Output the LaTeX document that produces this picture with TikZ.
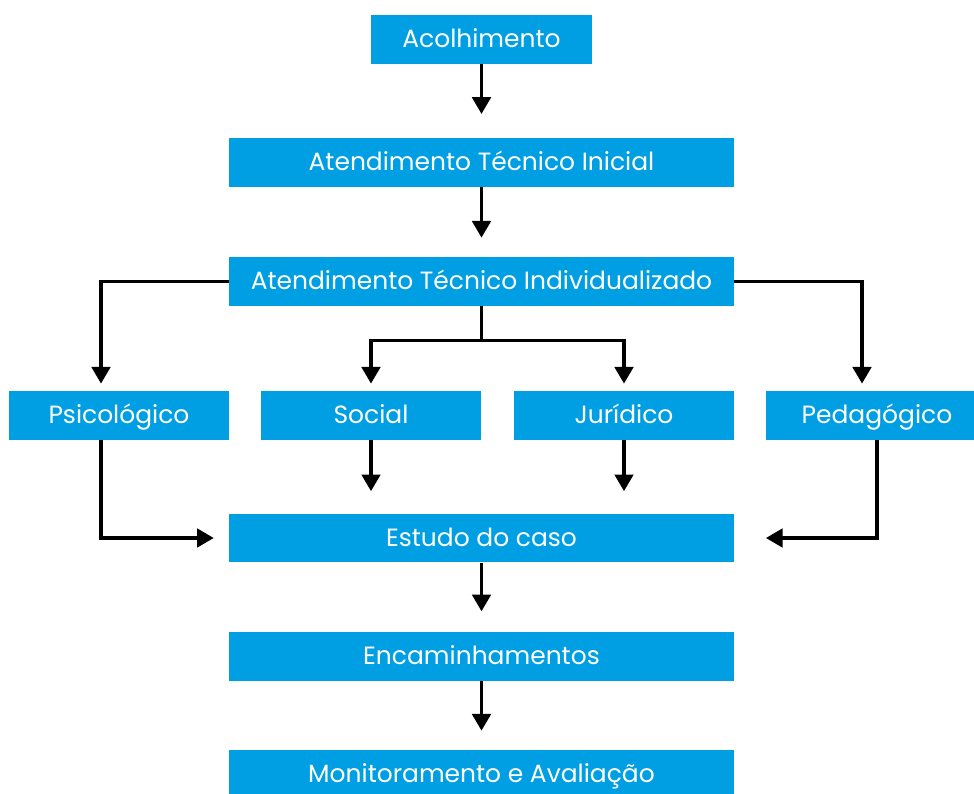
\documentclass[tikz,border=0pt]{standalone}
\usepackage{fontspec}
\setmainfont{Poppins}
\usetikzlibrary{arrows.meta,positioning}
\definecolor{boxblue}{RGB}{0,159,227}

\tikzset{
	etapa/.style={fill=boxblue, text=white, minimum height=0.98cm, inner sep=0pt,
		text height=0.95em, text depth=0pt, font=\fontsize{14.2}{16}\selectfont},
	larga/.style={etapa, minimum width=10.1cm},
	curta/.style={etapa, minimum width=4.4cm},
	seta/.style={line width=2pt, -{Triangle[width=10.5pt,length=9.5pt]}},
}

\begin{document}
\begin{tikzpicture}[x=0.02cm, y=-0.02cm]
		%%%%% START %%%%%
		\useasboundingbox (0,0) rectangle (974,794);
		
		\node[etapa, minimum width=4.42cm] (aco) at (481.5,39.5) {Acolhimento};
		\node[larga] (ini) at (481.5,162.5) {Atendimento Técnico Inicial};
		\node[larga] (ind) at (481.5,281.5) {Atendimento Técnico Individualizado};
		
		\node[curta] (psi) at (119,415.5) {Psicológico};
		\node[curta] (soc) at (371,415.5) {Social};
		\node[curta] (jur) at (624,415.5) {Jurídico};
		\node[etapa, minimum width=4.44cm] (ped) at (877,415.5) {Pedagógico};
		
		\node[larga] (est) at (481.5,538) {Estudo do caso};
		\node[larga] (enc) at (481.5,656) {Encaminhamentos};
		\node[larga] (mon) at (481.5,774.5) {Monitoramento e Avaliação};
		
		\draw[seta, shorten >=13.5pt] (aco) -- (ini);
		\draw[seta, shorten >=10.8pt] (ini) -- (ind);
		
		\draw[seta, shorten >=4pt] (ind.west) -| ([xshift=-0.36cm]psi.north);
		\draw[seta, shorten >=4pt] (ind.east) -| ([xshift=-0.3cm]ped.north);
		\draw[seta, shorten >=4pt] (ind.south) -- ++(0,34) -| (soc.north);
		\draw[seta, shorten >=4pt] (ind.south) -- ++(0,34) -| (jur.north);
		
		\draw[seta, shorten >=12.5pt] (soc) -- (soc |- est.north);
		\draw[seta, shorten >=12.5pt] (jur) -- (jur |- est.north);
		\draw[seta, shorten >=8.5pt] ([xshift=-0.36cm]psi.south) |- (est.west);
		\draw[seta, shorten >=18pt] (ped.south) |- (est.east);
		
		\draw[seta, shorten >=11.3pt] (est) -- (enc);
		\draw[seta, shorten >=10.8pt] (enc) -- (mon);
		%%%%% END %%%%%
\end{tikzpicture}
\end{document}
